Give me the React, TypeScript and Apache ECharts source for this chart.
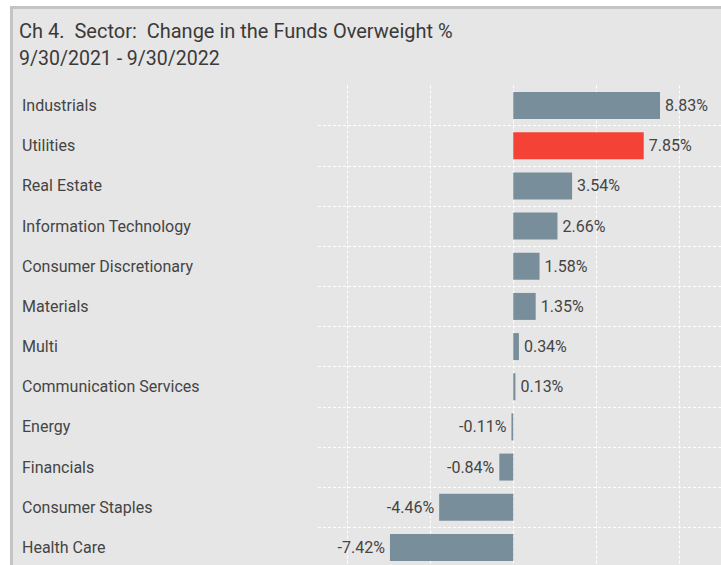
import React, { useEffect, useRef } from "react";
import * as echarts from "echarts";

const categories = [
  "Industrials",
  "Utilities",
  "Real Estate",
  "Information Technology",
  "Consumer Discretionary",
  "Materials",
  "Multi",
  "Communication Services",
  "Energy",
  "Financials",
  "Consumer Staples",
  "Health Care",
];
const values = [8.83, 7.85, 3.54, 2.66, 1.58, 1.35, 0.34, 0.13, -0.11, -0.84, -4.46, -7.42];
const highlighted = ["Utilities"];
const gridTicks = [-10, -5, 0, 5, 10];
const titleText = "Ch 4.  Sector:  Change in the Funds Overweight %";
const subtitleText = "9/30/2021 - 9/30/2022";

const FONT = "Roboto, 'Noto Sans', sans-serif";

export default function App() {
  const ref = useRef<HTMLDivElement>(null);
  useEffect(() => {
    if (!ref.current) return;
    const chart = echarts.init(ref.current, null, { renderer: "svg" });
    chart.setOption({
      animation: false,
      backgroundColor: "transparent",
      textStyle: { fontFamily: FONT },
      title: {
        text: titleText,
        subtext: subtitleText,
        left: 14,
        top: 16,
        itemGap: 7,
        textStyle: { fontFamily: FONT, fontSize: 20, fontWeight: "normal", color: "#3a3a3a" },
        subtextStyle: { fontFamily: FONT, fontSize: 19.5, color: "#3a3a3a" },
      },
      grid: { left: 318, right: 0, top: 85.5, bottom: 7.5, containLabel: false },
      xAxis: {
        type: "value",
        min: -11.75,
        max: 12.5,
        axisLabel: { show: false },
        axisLine: { show: false },
        axisTick: { show: false },
        splitLine: { show: false },
      },
      yAxis: {
        type: "category",
        inverse: true,
        data: categories,
        axisLine: { show: false },
        axisTick: { show: false },
        axisLabel: {
          align: "left",
          margin: 296,
          fontFamily: FONT,
          fontSize: 16,
          color: "#444",
        },
        splitLine: {
          show: true,
          showMinLine: false,
          lineStyle: { color: "#ffffff", type: [3, 2], width: 1 },
        },
      },
      series: [
        {
          type: "bar",
          z: 2,
          barWidth: 27,
          data: values.map((v, i) => ({
            value: v,
            itemStyle: { color: highlighted.includes(categories[i]) ? "#f44336" : "#788f9b" },
            label: { position: v >= 0 ? "right" : "left" },
          })),
          label: {
            show: true,
            distance: 5,
            fontFamily: FONT,
            fontSize: 16,
            color: "#444",
            formatter: (p: any) => Number(p.value).toFixed(2) + "%",
          },
          markLine: {
            z: 1,
            silent: true,
            symbol: ["none", "none"],
            label: { show: false },
            lineStyle: { color: "#ffffff", type: [3, 2], width: 1 },
            data: gridTicks.map((t) => ({ xAxis: t })),
          },
        },
      ],
    });
    return () => chart.dispose();
  }, []);

  return (
    <div
      style={{
        position: "fixed",
        left: 0,
        top: 0,
        width: 721,
        height: 565,
        overflow: "hidden",
        background: "#ffffff",
      }}
    >
      <div
        style={{
          position: "absolute",
          left: 10,
          top: 6,
          width: 800,
          height: 700,
          background: "#e6e6e6",
          borderTop: "3px solid #c4c4c4",
          borderLeft: "3px solid #c4c4c4",
        }}
      />
      <div ref={ref} style={{ position: "absolute", left: 0, top: 0, width: 721, height: 575 }} />
    </div>
  );
}
